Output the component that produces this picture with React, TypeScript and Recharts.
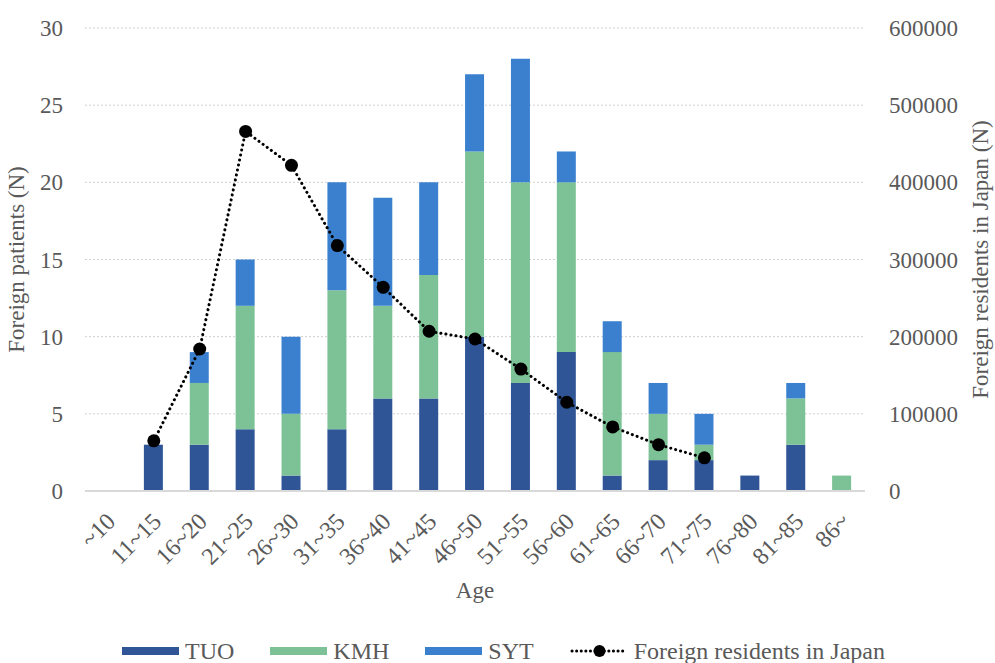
import { ComposedChart, Bar, Line, XAxis, YAxis, CartesianGrid, Legend } from 'recharts'

const AGES = ['~10', '11~15', '16~20', '21~25', '26~30', '31~35', '36~40', '41~45', '46~50', '51~55', '56~60', '61~65', '66~70', '71~75', '76~80', '81~85', '86~']
const TUO = [0, 3, 3, 4, 1, 4, 6, 6, 10, 7, 9, 1, 2, 2, 1, 3, 0]
const KMH = [0, 0, 4, 8, 4, 9, 6, 8, 12, 13, 11, 8, 3, 1, 0, 3, 1]
const SYT = [0, 0, 2, 3, 5, 7, 7, 6, 5, 8, 2, 2, 2, 2, 0, 1, 0]
const RESIDENTS = [null, 65000, 184000, 466000, 422000, 318000, 264000, 207000, 197000, 158000, 115000, 83000, 60000, 43000, null, null, null]
const LEFT_TICKS = [0, 5, 10, 15, 20, 25, 30]
const RIGHT_TICKS = [0, 100000, 200000, 300000, 400000, 500000, 600000]

const data = AGES.map((age, i) => ({
  age,
  TUO: TUO[i],
  KMH: KMH[i],
  SYT: SYT[i],
  residents: RESIDENTS[i],
}))

const FONT = 'Liberation Serif, DejaVu Serif'
const TEXT = '#595959'
const FS = 23

const AgeTick = (props: any) => {
  const { x, y, payload } = props
  const ax = x + 5
  const ay = y + 20
  return (
    <text
      x={ax}
      y={ay}
      transform={`rotate(-45, ${ax}, ${ay})`}
      textAnchor="end"
      dominantBaseline="middle"
      fill={TEXT}
      fontSize={24}
      fontFamily={FONT}
    >
      {payload.value}
    </text>
  )
}

const LegendBox = () => (
  <div style={{ display: 'flex', justifyContent: 'center', alignItems: 'center', gap: 36, paddingTop: 34, paddingLeft: 12, fontFamily: FONT, fontSize: 24, color: TEXT, lineHeight: '28px' }}>
    {[['TUO', '#2f5597'], ['KMH', '#7cc296'], ['SYT', '#3a80cf']].map(([n, c]) => (
      <span key={n} style={{ display: 'flex', alignItems: 'center', gap: 6 }}>
        <span style={{ width: 57, height: 8, background: c, display: 'inline-block' }} />
        {n}
      </span>
    ))}
    <span style={{ display: 'flex', alignItems: 'center', gap: 5 }}>
      <svg width={59} height={14}>
        <line x1={2} y1={7} x2={57} y2={7} stroke="#000" strokeWidth={3} strokeDasharray="0.1 4.5" strokeLinecap="round" />
        <circle cx={29.5} cy={7} r={6} fill="#000" />
      </svg>
      Foreign residents in Japan
    </span>
  </div>
)

export default function App() {
  return (
    <div style={{ position: 'absolute', left: 0, top: 0, background: '#fff' }}>
      <ComposedChart
        width={995}
        height={663}
        data={data}
        barSize={19}
        margin={{ top: 28, right: 0, left: 0, bottom: 0 }}
      >
        <CartesianGrid yAxisId="left" vertical={false} stroke="#d0d0d0" strokeDasharray="2 2" />
        <XAxis
          dataKey="age"
          interval={0}
          tickLine={false}
          axisLine={{ stroke: '#d9d9d9', strokeWidth: 2 }}
          tick={<AgeTick />}
          height={112}
          label={{ value: 'Age', position: 'insideBottom', offset: 5, fill: TEXT, fontSize: FS, fontFamily: FONT }}
        />
        <YAxis
          yAxisId="left"
          width={85}
          domain={[0, 30]}
          ticks={LEFT_TICKS}
          tickLine={false}
          axisLine={false}
          tick={{ fill: TEXT, fontSize: FS, fontFamily: FONT }}
          tickMargin={16}
          label={{ value: 'Foreign patients (N)', angle: -90, position: 'insideLeft', offset: 16, style: { textAnchor: 'middle', fill: TEXT, fontSize: FS, fontFamily: FONT } }}
        />
        <YAxis
          yAxisId="right"
          orientation="right"
          width={130}
          domain={[0, 600000]}
          ticks={RIGHT_TICKS}
          tickLine={false}
          axisLine={false}
          tick={{ fill: TEXT, fontSize: FS, fontFamily: FONT, textAnchor: 'start' }}
          tickMargin={18}
          label={{ value: 'Foreign residents in Japan (N)', angle: -90, position: 'insideRight', offset: 15, style: { textAnchor: 'middle', fill: TEXT, fontSize: FS, fontFamily: FONT } }}
        />
        <Legend verticalAlign="bottom" height={60} content={<LegendBox />} />
        <Bar yAxisId="left" dataKey="TUO" stackId="a" fill="#2f5597" isAnimationActive={false} />
        <Bar yAxisId="left" dataKey="KMH" stackId="a" fill="#7cc296" isAnimationActive={false} />
        <Bar yAxisId="left" dataKey="SYT" stackId="a" fill="#3a80cf" isAnimationActive={false} />
        <Line
          yAxisId="right"
          dataKey="residents"
          stroke="#000"
          strokeWidth={3}
          strokeDasharray="0.1 5"
          strokeLinecap="round"
          dot={{ r: 6.5, fill: '#000', stroke: '#000', strokeWidth: 0 }}
          isAnimationActive={false}
        />
      </ComposedChart>
    </div>
  )
}
